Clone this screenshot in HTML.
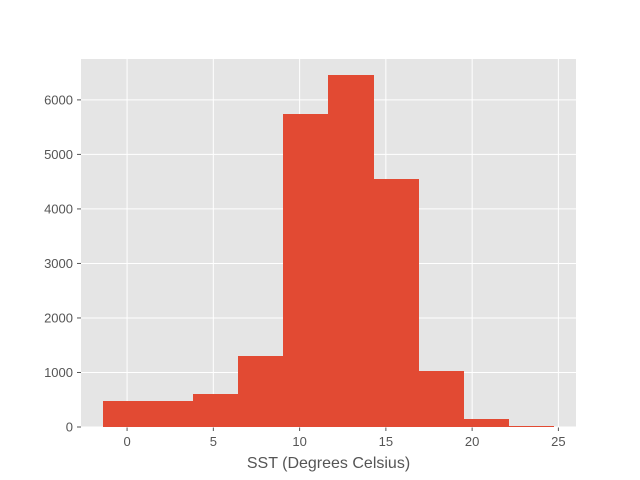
<!DOCTYPE html>
<html><head><meta charset="utf-8"><style>body{margin:0;background:#fff}svg{display:block}</style></head>
<body>
<svg id="chart" width="640" height="480" xmlns="http://www.w3.org/2000/svg" font-family="Liberation Sans, sans-serif"></svg>
<script>
const binEdges=[-1.39,1.22,3.83,6.44,9.05,11.66,14.27,16.88,19.49,22.1,24.71];
const counts=[477,477,605,1300,5740,6460,4550,1030,150,15];
const xTicks=[0,5,10,15,20,25];
const yTicks=[0,1000,2000,3000,4000,5000,6000];
const xLabel="SST (Degrees Celsius)";
const L=81,R=576,T=59,B=427,xmin=-2.67,xmax=26.02,ymin=0,ymax=6750;
const X=v=>L+(v-xmin)/(xmax-xmin)*(R-L);
const Y=v=>B-(v-ymin)/(ymax-ymin)*(B-T);
const svg=document.getElementById('chart');const NS='http://www.w3.org/2000/svg';
function mk(t,a,p){const e=document.createElementNS(NS,t);for(const k in a)e.setAttribute(k,a[k]);(p||svg).appendChild(e);return e;}
const bg=mk('rect',{x:L,y:T,width:R-L,height:B-T,fill:'#e5e5e5'});


xTicks.forEach(t=>{const x=X(t);
const g=mk('line',{x1:x,x2:x,y1:T,y2:B,stroke:'#fff','stroke-width':1});


mk('line',{x1:x,x2:x,y1:B,y2:B+4,stroke:'#555'});
const tx=mk('text',{x:x,y:B+19,'text-anchor':'middle','font-size':13,fill:'#555'});tx.textContent=t;

});
yTicks.forEach(t=>{const y=Y(t);
const g=mk('line',{x1:L,x2:R,y1:y,y2:y,stroke:'#fff','stroke-width':1});


mk('line',{x1:L-4,x2:L,y1:y,y2:y,stroke:'#555'});
const tx=mk('text',{x:L-8,y:y+4.5,'text-anchor':'end','font-size':13,fill:'#555'});tx.textContent=t;

});
counts.forEach((c,i)=>{const x0=X(binEdges[i]),x1=X(binEdges[i+1]);
const r=mk('rect',{x:x0,y:Y(c),width:x1-x0+0.5,height:B-Y(c),fill:'#e24a33','shape-rendering':'crispEdges'});

});
const xl=mk('text',{x:(L+R)/2,y:468,'text-anchor':'middle','font-size':16,fill:'#555'});xl.textContent=xLabel;


</script>
</body></html>
